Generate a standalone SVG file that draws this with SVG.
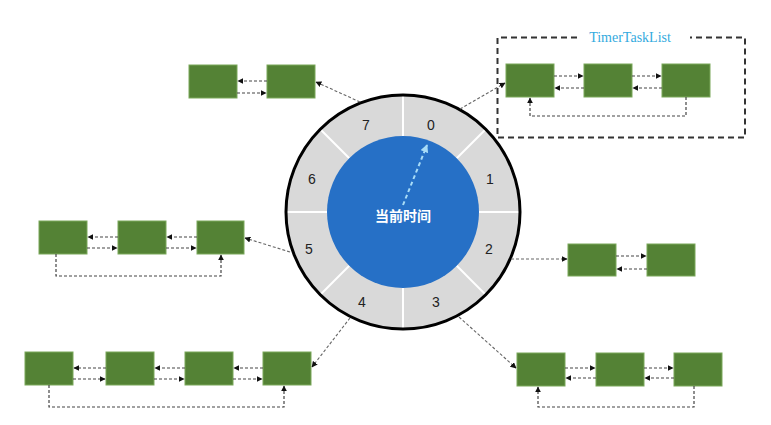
<svg xmlns="http://www.w3.org/2000/svg" width="771" height="425" viewBox="0 0 771 425">
<defs>
<marker id="ah" viewBox="0 0 10 10" refX="9" refY="5" markerWidth="6" markerHeight="6" markerUnits="userSpaceOnUse" orient="auto">
<path d="M0,0 L10,5 L0,10 z" fill="#111"/>
</marker>
<marker id="ahb" viewBox="0 0 10 10" refX="9" refY="5" markerWidth="8" markerHeight="8" markerUnits="userSpaceOnUse" orient="auto">
<path d="M0,0 L10,5 L0,10 z" fill="#a8dcf7"/>
</marker>
<style>
.box{fill:#548235;stroke:#7aa85a;stroke-width:1}
.lk{fill:none;stroke:#444;stroke-width:1.2;stroke-dasharray:3 2;marker-end:url(#ah)}
.cn{fill:none;stroke:#666;stroke-width:1.1;stroke-dasharray:3 2;marker-end:url(#ah)}
.num{font-family:"Liberation Sans",Arial,sans-serif;font-size:14px;fill:#222;text-anchor:middle}
</style>
</defs>
<rect width="771" height="425" fill="#fff"/>

<g id="wheel">
<circle cx="403" cy="212" r="117" fill="#d9d9d9"/>
<g stroke="#fff" stroke-width="2">
<line x1="403" y1="212" x2="403" y2="95"/>
<line x1="403" y1="212" x2="485.7" y2="129.3"/>
<line x1="403" y1="212" x2="520" y2="212"/>
<line x1="403" y1="212" x2="485.7" y2="294.7"/>
<line x1="403" y1="212" x2="403" y2="329"/>
<line x1="403" y1="212" x2="320.3" y2="294.7"/>
<line x1="403" y1="212" x2="286" y2="212"/>
<line x1="403" y1="212" x2="320.3" y2="129.3"/>
</g>
<circle cx="403" cy="212" r="76" fill="#2670c6"/>
<circle cx="403" cy="212" r="117" fill="none" stroke="#000" stroke-width="3"/>
<text class="num" x="431" y="130">0</text>
<text class="num" x="490" y="184">1</text>
<text class="num" x="489" y="254">2</text>
<text class="num" x="436" y="307">3</text>
<text class="num" x="362" y="307">4</text>
<text class="num" x="309" y="254">5</text>
<text class="num" x="312" y="184">6</text>
<text class="num" x="366" y="130">7</text>
<line x1="403" y1="205" x2="427" y2="145" stroke="#a8dcf7" stroke-width="2" stroke-dasharray="4 3" marker-end="url(#ahb)"/>
<text x="403" y="221" font-family="'Noto Sans CJK SC',sans-serif" font-size="14" font-weight="bold" fill="#fff" text-anchor="middle">当前时间</text>
</g>

<g id="list7">
<rect class="box" x="189" y="65" width="48" height="33"/>
<rect class="box" x="267" y="65" width="48" height="33"/>
<line class="lk" x1="267" y1="81" x2="238" y2="81"/>
<line class="lk" x1="237" y1="93" x2="266" y2="93"/>
</g>

<g id="list0">
<path d="M577,37.5 H497.5 V137.5 H745 V37.5 H690" fill="none" stroke="#333" stroke-width="2" stroke-dasharray="6 4"/>
<text x="630" y="41.5" font-family="'Liberation Serif','Times New Roman',serif" font-size="14" fill="#33aade" text-anchor="middle">TimerTaskList</text>
<rect class="box" x="506" y="64" width="48" height="33"/>
<rect class="box" x="584" y="64" width="48" height="33"/>
<rect class="box" x="662" y="64" width="48" height="33"/>
<line class="lk" x1="554" y1="76" x2="583" y2="76"/>
<line class="lk" x1="632" y1="76" x2="661" y2="76"/>
<line class="lk" x1="584" y1="88" x2="555" y2="88"/>
<line class="lk" x1="662" y1="88" x2="633" y2="88"/>
<path class="lk" d="M686,97 V116 H530 V98"/>
</g>

<g id="list2">
<rect class="box" x="568" y="244" width="48" height="32"/>
<rect class="box" x="647" y="244" width="48" height="32"/>
<line class="lk" x1="616" y1="256" x2="646" y2="256"/>
<line class="lk" x1="647" y1="269" x2="617" y2="269"/>
</g>

<g id="list3">
<rect class="box" x="517" y="353" width="48" height="33"/>
<rect class="box" x="596" y="353" width="48" height="33"/>
<rect class="box" x="674" y="353" width="48" height="33"/>
<line class="lk" x1="565" y1="368" x2="595" y2="368"/>
<line class="lk" x1="644" y1="368" x2="673" y2="368"/>
<line class="lk" x1="596" y1="378" x2="566" y2="378"/>
<line class="lk" x1="674" y1="378" x2="645" y2="378"/>
<path class="lk" d="M694,386 V407 H538 V387"/>
</g>

<g id="list4">
<rect class="box" x="25" y="352" width="48" height="33"/>
<rect class="box" x="106" y="352" width="48" height="33"/>
<rect class="box" x="185" y="352" width="48" height="33"/>
<rect class="box" x="263" y="352" width="48" height="33"/>
<line class="lk" x1="106" y1="368" x2="74" y2="368"/>
<line class="lk" x1="185" y1="368" x2="155" y2="368"/>
<line class="lk" x1="263" y1="368" x2="234" y2="368"/>
<line class="lk" x1="73" y1="379" x2="105" y2="379"/>
<line class="lk" x1="154" y1="379" x2="184" y2="379"/>
<line class="lk" x1="233" y1="379" x2="262" y2="379"/>
<path class="lk" d="M49,385 V407 H284 V386"/>
</g>

<g id="list5">
<rect class="box" x="39" y="221" width="48" height="33"/>
<rect class="box" x="118" y="221" width="48" height="33"/>
<rect class="box" x="197" y="221" width="47" height="33"/>
<line class="lk" x1="118" y1="237" x2="88" y2="237"/>
<line class="lk" x1="197" y1="237" x2="167" y2="237"/>
<line class="lk" x1="87" y1="248" x2="117" y2="248"/>
<line class="lk" x1="166" y1="248" x2="196" y2="248"/>
<path class="lk" d="M56,254 V276 H221 V255"/>
</g>

<g id="connectors">
<line class="cn" x1="360" y1="102" x2="316" y2="82"/>
<line class="cn" x1="460" y1="109" x2="505" y2="83"/>
<line class="cn" x1="511" y1="259" x2="567" y2="259"/>
<line class="cn" x1="459" y1="317" x2="516" y2="368"/>
<line class="cn" x1="350" y1="318" x2="312" y2="367"/>
<line class="cn" x1="290" y1="252" x2="245" y2="238"/>
</g>
</svg>
